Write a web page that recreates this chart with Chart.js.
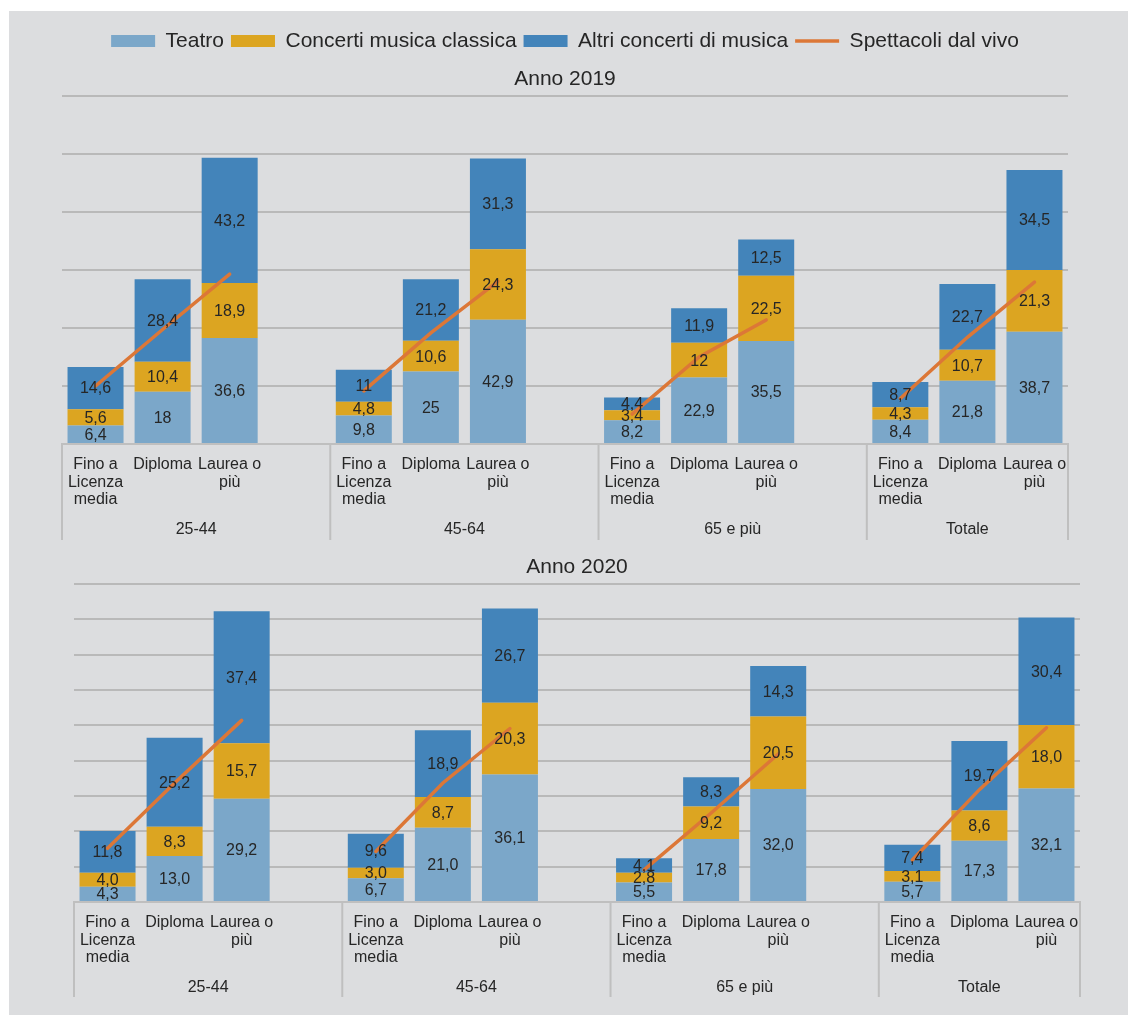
<!DOCTYPE html>
<html>
<head>
<meta charset="utf-8">
<script src="https://cdn.jsdelivr.net/npm/chart.js@4.4.1/dist/chart.umd.min.js"></script>
<style>
  html, body { margin: 0; padding: 0; background: #ffffff; }
  body { width: 1128px; height: 1015px; position: relative; overflow: hidden; }
  #panel { position: absolute; left: 9px; top: 11px; right: 0; bottom: 0; background: #dcdddf; }
  canvas { position: absolute; left: 0; }
  #c2019 { top: 0; }
  #c2020 { top: 550px; }
</style>
</head>
<body>
<div id="panel"></div>
<canvas id="c2019" width="1128" height="550"></canvas>
<canvas id="c2020" width="1128" height="465"></canvas>
<script>
// Age groups (outer axis level) and education levels (inner axis level)
const GROUPS = ['25-44', '45-64', '65 e più', 'Totale'];
const LEVELS = [['Fino a', 'Licenza', 'media'], 'Diploma', ['Laurea o', 'più']];
const SERIES = ['Teatro', 'Concerti musica classica', 'Altri concerti di musica', 'Spettacoli dal vivo'];

// Anno 2019 — values per group: Fino a licenza media, Diploma, Laurea o più
const TEATRO_2019   = [6.4, 18, 36.6,   9.8, 25, 42.9,   8.2, 22.9, 35.5,   8.4, 21.8, 38.7];
const CLASSICA_2019 = [5.6, 10.4, 18.9, 4.8, 10.6, 24.3, 3.4, 12, 22.5,     4.3, 10.7, 21.3];
const ALTRI_2019    = [14.6, 28.4, 43.2, 11, 21.2, 31.3,  4.4, 11.9, 12.5,   8.7, 22.7, 34.5];
const VIVO_2019     = [20.0, 39.5, 58.6, 18.3, 38.3, 56.1, 10.3, 30.0, 42.8, 15.7, 36.8, 55.8];

// Anno 2020
const TEATRO_2020   = [4.3, 13.0, 29.2, 6.7, 21.0, 36.1, 5.5, 17.8, 32.0, 5.7, 17.3, 32.1];
const CLASSICA_2020 = [4.0, 8.3, 15.7,  3.0, 8.7, 20.3,  2.8, 9.2, 20.5,  3.1, 8.6, 18.0];
const ALTRI_2020    = [11.8, 25.2, 37.4, 9.6, 18.9, 26.7, 4.1, 8.3, 14.3, 7.4, 19.7, 30.4];
const VIVO_2020     = [15.2, 33.7, 51.4, 14.3, 33.7, 49.1, 9.1, 25.2, 41.9, 11.9, 31.8, 49.3];

const Y_MAX_2019 = 120, Y_STEP_2019 = 20;
const Y_MAX_2020 = 90,  Y_STEP_2020 = 10;

const COLORS = ['#7ba7c9', '#dca521', '#4384ba', '#dc7737'];
const TEXT = '#262626';
const GRID = '#b9b9b9';
const AXIS = '#bfbfbf';
const FONT = '"Liberation Sans", Arial, sans-serif';

// Category axis: three education levels per age group, an empty slot between groups
const labels = [];
GROUPS.forEach((g, gi) => {
  LEVELS.forEach(l => labels.push(l));
  if (gi < GROUPS.length - 1) labels.push('');
});

function spread(values) {
  const out = [];
  GROUPS.forEach((g, gi) => {
    out.push(...values.slice(gi * LEVELS.length, (gi + 1) * LEVELS.length));
    if (gi < GROUPS.length - 1) out.push(null);
  });
  return out;
}

function fmt(v, decimals) {
  const s = decimals == null ? String(v) : v.toFixed(decimals);
  return s.replace('.', ',');
}

// Value labels centred in each stacked segment
const stackLabels = {
  id: 'stackLabels',
  afterDatasetsDraw(chart, args, opts) {
    const ctx = chart.ctx;
    ctx.save();
    ctx.font = '16px ' + FONT;
    ctx.fillStyle = TEXT;
    ctx.textAlign = 'center';
    ctx.textBaseline = 'middle';
    chart.data.datasets.forEach((ds, i) => {
      if (ds.type === 'line') return;
      const meta = chart.getDatasetMeta(i);
      meta.data.forEach((el, j) => {
        const v = ds.data[j];
        if (v == null) return;
        const p = el.getProps(['x', 'y', 'base'], true);
        ctx.fillText(fmt(v, opts.decimals), p.x, (p.y + p.base) / 2 + 1);
      });
    });
    ctx.restore();
  }
};

// Outer axis level: age-group names and separators below the category labels
const groupAxis = {
  id: 'groupAxis',
  afterDraw(chart, args, opts) {
    const xs = chart.scales.x;
    const ctx = chart.ctx;
    const step = xs.getPixelForValue(1) - xs.getPixelForValue(0);
    const per = LEVELS.length + 1;
    ctx.save();
    ctx.strokeStyle = AXIS;
    ctx.lineWidth = 2;
    ctx.font = '16px ' + FONT;
    ctx.fillStyle = TEXT;
    ctx.textAlign = 'center';
    ctx.textBaseline = 'middle';
    GROUPS.forEach((g, gi) => {
      const first = gi * per;
      const last = Math.min(first + per, labels.length) - 1;
      const left = xs.getPixelForValue(first) - step / 2;
      const right = xs.getPixelForValue(last) + step / 2;
      ctx.beginPath();
      ctx.moveTo(left, xs.top);
      ctx.lineTo(left, xs.bottom);
      if (gi === GROUPS.length - 1) {
        ctx.moveTo(right, xs.top);
        ctx.lineTo(right, xs.bottom);
      }
      ctx.stroke();
      ctx.fillText(g, (left + right) / 2, xs.top + opts.labelOffset);
    });
    ctx.restore();
  }
};

function makeChart(id, cfg) {
  const datasets = [
    { label: SERIES[0], data: spread(cfg.teatro), backgroundColor: COLORS[0] },
    { label: SERIES[1], data: spread(cfg.classica), backgroundColor: COLORS[1] },
    { label: SERIES[2], data: spread(cfg.altri), backgroundColor: COLORS[2] }
  ].map(d => Object.assign(d, {
    type: 'bar', order: 1, borderWidth: 0, barPercentage: 0.835, categoryPercentage: 1
  }));
  datasets.push({
    type: 'line', label: SERIES[3], data: spread(cfg.vivo), order: 0, stack: 'vivo',
    borderColor: COLORS[3], backgroundColor: COLORS[3], borderWidth: 3.5,
    pointRadius: 0, tension: 0, spanGaps: false, fill: false, borderCapStyle: 'round'
  });

  return new Chart(document.getElementById(id), {
    data: { labels, datasets },
    options: {
      responsive: false,
      animation: false,
      devicePixelRatio: 1,
      events: [],
      layout: { padding: cfg.padding },
      plugins: {
        legend: {
          display: cfg.legend,
          position: 'top',
          weight: 3000,
          labels: {
            usePointStyle: true,
            pointStyleWidth: 44,
            boxWidth: 44,
            boxHeight: 12,
            padding: 7,
            color: TEXT,
            font: { family: FONT, size: 21 },
            generateLabels(chart) {
              return chart.data.datasets.map((ds, i) => ({
                text: ds.label,
                datasetIndex: i,
                fillStyle: ds.type === 'line' ? ds.borderColor : ds.backgroundColor,
                strokeStyle: ds.type === 'line' ? ds.borderColor : ds.backgroundColor,
                lineWidth: ds.type === 'line' ? 3.5 : 0,
                pointStyle: ds.type === 'line' ? 'line' : 'rect',
                fontColor: TEXT,
                hidden: false
              }));
            }
          }
        },
        title: {
          display: true,
          text: cfg.title,
          color: TEXT,
          weight: 500,
          font: { family: FONT, size: 21, weight: 'normal' },
          padding: cfg.titlePadding
        },
        tooltip: { enabled: false },
        stackLabels: { decimals: cfg.decimals },
        groupAxis: { labelOffset: 86 }
      },
      scales: {
        x: {
          stacked: true,
          grid: { display: false },
          border: { display: true, color: AXIS, width: 2 },
          ticks: {
            color: TEXT,
            font: { family: FONT, size: 16, lineHeight: 1.1 },
            maxRotation: 0, minRotation: 0, autoSkip: false, padding: 4
          },
          afterFit(s) { s.height = cfg.axisHeight; }
        },
        y: {
          stacked: true,
          min: 0, max: cfg.yMax,
          ticks: { display: false, stepSize: cfg.yStep },
          grid: { color: GRID, lineWidth: 2, drawTicks: false },
          border: { display: false },
          afterFit(s) { s.width = 0; }
        }
      }
    },
    plugins: [stackLabels, groupAxis]
  });
}

makeChart('c2019', {
  title: 'Anno 2019', legend: true, decimals: null,
  teatro: TEATRO_2019, classica: CLASSICA_2019, altri: ALTRI_2019, vivo: VIVO_2019,
  yMax: Y_MAX_2019, yStep: Y_STEP_2019,
  padding: { top: 23.5, left: 62, right: 60, bottom: 10 },
  titlePadding: { top: 5, bottom: 4.4 },
  axisHeight: 96
});

makeChart('c2020', {
  title: 'Anno 2020', legend: false, decimals: 1,
  teatro: TEATRO_2020, classica: CLASSICA_2020, altri: ALTRI_2020, vivo: VIVO_2020,
  yMax: Y_MAX_2020, yStep: Y_STEP_2020,
  padding: { top: 0, left: 74, right: 48, bottom: 18 },
  titlePadding: { top: 4.4, bottom: 4.4 },
  axisHeight: 95
});
</script>
</body>
</html>
